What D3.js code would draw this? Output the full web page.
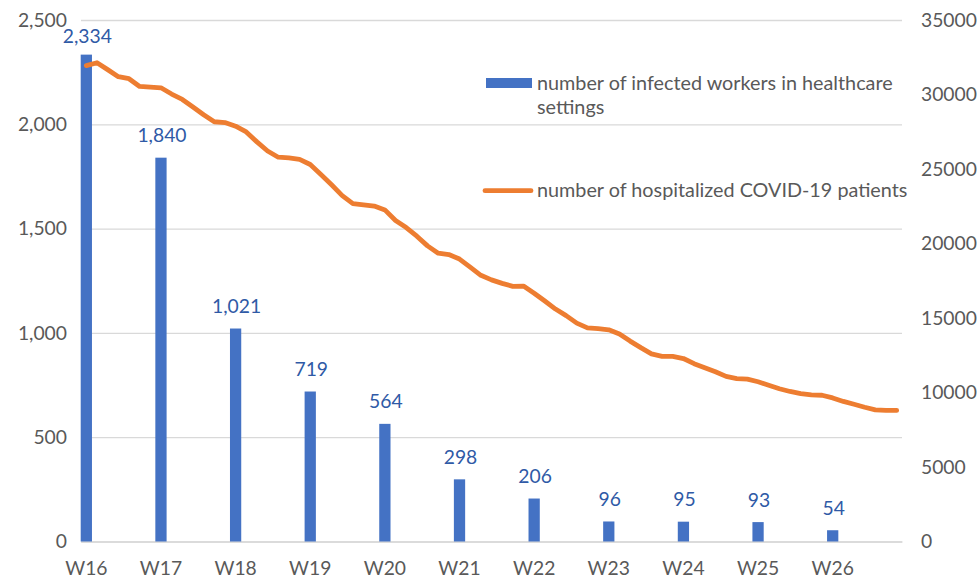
<!DOCTYPE html>
<html>
<head>
<meta charset="utf-8">
<script src="https://cdn.jsdelivr.net/npm/d3@7"></script>
<style>
  html, body { margin: 0; padding: 0; background: #ffffff; }
  svg { display: block; }
  text { font-family: Lato, "Open Sans", sans-serif; }
</style>
</head>
<body>
<svg id="chart" width="977" height="579"></svg>
<script>
// ---- data ----
const weeks = ["W16","W17","W18","W19","W20","W21","W22","W23","W24","W25","W26"];
const infectedWorkers = [2334, 1840, 1021, 719, 564, 298, 206, 96, 95, 93, 54];
// daily number of hospitalized COVID-19 patients (77 days, W16..W26)
const hospitalized = [
  31940, 32130, 31670, 31195, 31060, 30540, 30500,
  30450, 30030, 29670, 29165, 28645, 28170, 28115,
  27870, 27485, 26820, 26210, 25790, 25745, 25650,
  25300, 24635, 23940, 23215, 22675, 22590, 22515,
  22255, 21545, 21070, 20490, 19840, 19350, 19260,
  18955, 18410, 17865, 17560, 17325, 17125, 17145,
  16665, 16140, 15600, 15160, 14655, 14335, 14285,
  14210, 13930, 13450, 13010, 12595, 12430, 12420,
  12280, 11935, 11665, 11390, 11080, 10935, 10900,
  10720, 10485, 10255, 10070, 9930, 9845, 9815,
  9635, 9400, 9210, 9010, 8835, 8795, 8800
];
const leftTicks = [0, 500, 1000, 1500, 2000, 2500];
const rightTicks = [0, 5000, 10000, 15000, 20000, 25000, 30000, 35000];
const legendLabels = [
  ["number of infected workers in healthcare", "settings"],
  ["number of hospitalized COVID-19 patients"]
];

// ---- layout ----
const W = 977, H = 579;
const plot = { left: 81, right: 902, top: 20, bottom: 541.5 };
const barColor = "#4472C4", lineColor = "#ED7D31";
const textColor = "#595959", gridColor = "#D9D9D9", labelColor = "#2F5AA6";
const fontSize = 19.3;
const legendFont = 19.8;

const svg = d3.select("#chart");

const days = d3.range(hospitalized.length);
const x = d3.scaleBand().domain(days).range([plot.left, plot.right]).padding(0);
const bw = x.bandwidth();
const yL = d3.scaleLinear().domain([0, 2500]).range([plot.bottom, plot.top]);
const yR = d3.scaleLinear().domain([0, 35000]).range([plot.bottom, plot.top]);

// gridlines
const grid = svg.append("g")
  .attr("transform", `translate(${plot.left},0)`)
  .call(d3.axisLeft(yL).tickValues(leftTicks).tickSize(-(plot.right - plot.left)).tickFormat(""));
grid.select(".domain").remove();
grid.selectAll("line").attr("stroke", gridColor).attr("stroke-width", 1.3);

// left axis labels
const axL = svg.append("g")
  .attr("transform", `translate(${plot.left},0)`)
  .call(d3.axisLeft(yL).tickValues(leftTicks).tickSize(0).tickPadding(14).tickFormat(d3.format(",")));
axL.select(".domain").remove();
axL.selectAll("text").attr("fill", textColor).style("font-size", fontSize + "px").style("font-family", "Lato");

// right axis labels
const axR = svg.append("g")
  .attr("transform", `translate(${plot.right},0)`)
  .call(d3.axisRight(yR).tickValues(rightTicks).tickSize(0).tickPadding(19).tickFormat(d3.format("d")));
axR.select(".domain").remove();
axR.selectAll("text").attr("fill", textColor).style("font-size", fontSize + "px").style("font-family", "Lato");

// bottom axis
const weekDayIdx = weeks.map((w, i) => i * 7);
const axB = svg.append("g")
  .attr("transform", `translate(0,${plot.bottom})`)
  .call(d3.axisBottom(x).tickValues(weekDayIdx).tickSize(0).tickPadding(20).tickFormat(d => weeks[d / 7]));
axB.select(".domain").attr("stroke", gridColor).attr("stroke-width", 1.3);
axB.selectAll("text").attr("fill", textColor).style("font-size", fontSize + "px").style("font-family", "Lato");

// bars
svg.append("g").selectAll("rect")
  .data(infectedWorkers)
  .join("rect")
  .attr("x", (d, i) => x(i * 7) - 0.3)
  .attr("width", bw + 0.6)
  .attr("y", d => yL(d))
  .attr("height", d => yL(0) - yL(d))
  .attr("fill", barColor);

// bar data labels
svg.append("g").selectAll("text")
  .data(infectedWorkers)
  .join("text")
  .attr("x", (d, i) => x(i * 7) + bw / 2 + 1)
  .attr("y", d => Math.max(yL(d) - 15.5, 43))
  .attr("text-anchor", "middle")
  .attr("fill", labelColor)
  .style("font-size", fontSize + "px")
  .text(d => d3.format(",")(d));

// line
const line = d3.line()
  .x((d, i) => x(i) + bw / 2)
  .y(d => yR(d));
svg.append("path")
  .datum(hospitalized)
  .attr("d", line)
  .attr("fill", "none")
  .attr("stroke", lineColor)
  .attr("stroke-width", 4.8)
  .attr("stroke-linejoin", "round")
  .attr("stroke-linecap", "round");

// legend
const lg = svg.append("g");
lg.append("rect").attr("x", 486).attr("y", 78).attr("width", 46).attr("height", 10).attr("fill", barColor);
const t1 = lg.append("text").attr("x", 537).attr("y", 89.5).attr("fill", textColor).style("font-size", legendFont + "px");
legendLabels[0].forEach((s, i) => t1.append("tspan").attr("x", 537).attr("dy", i === 0 ? 0 : 24).text(s));
lg.append("line").attr("x1", 485).attr("x2", 531).attr("y1", 190.7).attr("y2", 190.7)
  .attr("stroke", lineColor).attr("stroke-width", 4.8).attr("stroke-linecap", "round");
lg.append("text").attr("x", 537).attr("y", 196.5).attr("fill", textColor).style("font-size", legendFont + "px")
  .text(legendLabels[1][0]);
</script>
</body>
</html>
